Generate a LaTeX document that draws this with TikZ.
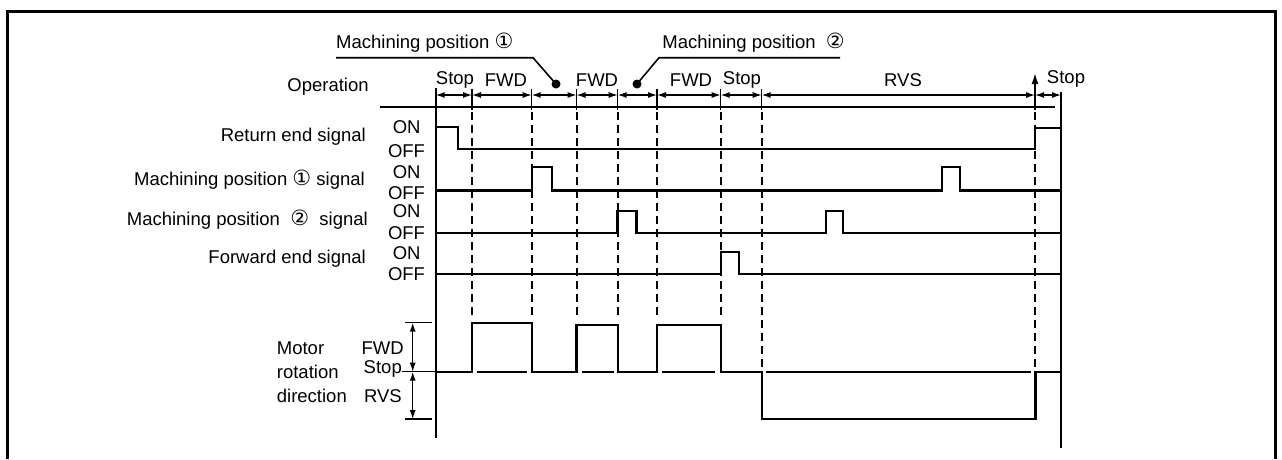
\documentclass[tikz,border=0pt]{standalone}
\usepackage{fontspec}
\setmainfont{Liberation Sans}
\newfontfamily\symfont{DejaVu Sans}
\usetikzlibrary{arrows.meta}
\newcommand{\cone}{{\symfont\fontsize{21}{22}\selectfont ①}}
\newcommand{\ctwo}{{\symfont\fontsize{21}{22}\selectfont ②}}
\begin{document}
\begin{tikzpicture}[x=1pt,y=-1pt,
  font=\fontsize{18.5}{21}\selectfont,
  txt/.style={inner sep=0pt},
  sig/.style={line width=2.2pt, line join=miter},
  thin/.style={line width=1.3pt},
  dsh/.style={line width=2pt, dash pattern=on 8pt off 5pt},
  dimarr/.style={line width=1.2pt, {Latex[length=9pt,width=6pt]}-{Latex[length=9pt,width=6pt]}},
  uparr/.style={line width=1.6pt, -{Latex[length=11pt,width=7pt]}},
  dot/.style={circle, fill=black, inner sep=0pt, minimum size=9pt}]
\useasboundingbox (0,0) rectangle (1282,459);
% frame
\draw[line width=3pt] (7,459) -- (7,11) -- (1275,11) -- (1275,459);

% leaders
\node[txt, anchor=west] (mp1) at (336,43) {Machining position \cone};
\node[dot] (d1) at (556,84) {};
\draw[line width=1.6pt] (336,57.7) -- (533,57.7) -- (d1.center);
\node[txt, anchor=east] (mp2) at (845,43) {Machining position \ \ctwo};
\node[dot] (d2) at (637,84) {};
\draw[line width=1.6pt] (840,57.7) -- (659,57.7) -- (d2.center);

% operation row
\node[txt] (op) at (328,87) {Operation};
\draw[thin] (380,107) -- (1055,107);
\foreach \n/\x in {t0/435.7,t1/472,t2/531.7,t3/576.5,t4/617.7,t5/657,t6/720.7,t7/761.7,t8/1035,t9/1061}
  \coordinate (\n) at (\x,95);
\foreach \x in {472,531.7,576.5,617.7,657,720.7,761.7}
  \draw[thin] (\x,89) -- (\x,110);
\coordinate (upb) at (1035,110);
\coordinate (upt) at (1035,73);
\draw[uparr] (upb) -- (upt);
\foreach \a/\b in {t0/t1,t1/t2,t2/t3,t3/t4,t4/t5,t5/t6,t6/t7,t7/t8,t8/t9}
  \draw[dimarr] (\a) -- (\b);
\node[txt] (o1) at (455,80) {Stop};
\node[txt] (o2) at (506,80) {FWD};
\node[txt] (o3) at (597,80) {FWD};
\node[txt] (o4) at (691,80) {FWD};
\node[txt] (o5) at (742,80) {Stop};
\node[txt] (o6) at (903,80) {RVS};
\node[txt] (o7) at (1066,79) {Stop};

% axes
\draw[line width=2.2pt] (435.7,88) -- (435.7,438);
\draw[line width=2.2pt] (1061,92) -- (1061,448);

% dashed lines
\foreach \x in {472,531.7,576.5,617.7,657,720.7}
  \draw[dsh] (\x,112) -- (\x,318);
\draw[dsh] (761.7,112) -- (761.7,370);
\draw[dsh] (1035,112) -- (1035,368);

% signal labels
\node[txt, anchor=east] (l1) at (366,137) {Return end signal};
\node[txt, anchor=east] (l2) at (365,180) {Machining position \cone\ signal};
\node[txt, anchor=east] (l3) at (368,220) {Machining position \ \ctwo\ \ signal};
\node[txt, anchor=east] (l4) at (366,259) {Forward end signal};
\foreach \y [count=\i] in {127.3,171.7,211.5,253.3}
  \node[txt] (on\i) at (406.7,\y) {ON};
\foreach \y [count=\i] in {151,193.5,232.7,274}
  \node[txt] (off\i) at (406.5,\y) {OFF};

% signals
\draw[sig] (435.7,127.3) -- (457.7,127.3) -- (457.7,149) -- (1035,149) -- (1035,128) -- (1061,128);
\draw[sig] (435.7,190.5) -- (531.7,190.5) -- (531.7,167.3) -- (552.3,167.3) -- (552.3,190.5)
  -- (942,190.5) -- (942,167.3) -- (960,167.3) -- (960,190.5) -- (1061,190.5);
\draw[sig] (435.7,233.3) -- (617.5,233.3) -- (617.5,211) -- (636.5,211) -- (636.5,233.3)
  -- (825.7,233.3) -- (825.7,211) -- (843.3,211) -- (843.3,233.3) -- (1061,233.3);
\draw[sig] (435.7,274) -- (720.7,274) -- (720.7,251.7) -- (739,251.7) -- (739,274) -- (1061,274);

% motor section
\node[txt, anchor=west] (m1) at (276.7,348) {Motor};
\node[txt, anchor=west] (m2) at (276.7,372) {rotation};
\node[txt, anchor=west] (m3) at (276.7,396) {direction};
\node[txt, anchor=east] (mf) at (404,348.3) {FWD};
\node[txt, anchor=east] (ms) at (402,369.3) {Stop};
\node[txt, anchor=east] (mr) at (402,396) {RVS};
\coordinate (yf) at (412.7,322.7);
\coordinate (ys) at (412.7,371.7);
\coordinate (yr) at (412.7,419);
\draw[thin] (405,322.7) -- (432,322.7);
\draw[thin] (405,419) -- (432,419);
\draw[thin] (402,371.7) -- (435.7,371.7);
\draw[dimarr] (yf) -- (ys);
\draw[dimarr] (ys) -- (yr);
\draw[sig] (435.7,371.7) -- (471.7,371.7) -- (471.7,322.7) -- (532,322.7) -- (532,371.7)
  -- (576.5,371.7) -- (576.5,325) -- (617.7,325) -- (617.7,371.7)
  -- (657.3,371.7) -- (657.3,325) -- (720.7,325) -- (720.7,371.7)
  -- (761.7,371.7) -- (761.7,419) -- (1035.5,419) -- (1035.5,371.7) -- (1061,371.7);
\foreach \a/\b in {476.7/526.7,581.7/614,661.7/715,766/1031}
  \draw[sig] (\a,371.7) -- (\b,371.7);
\end{tikzpicture}
\end{document}
